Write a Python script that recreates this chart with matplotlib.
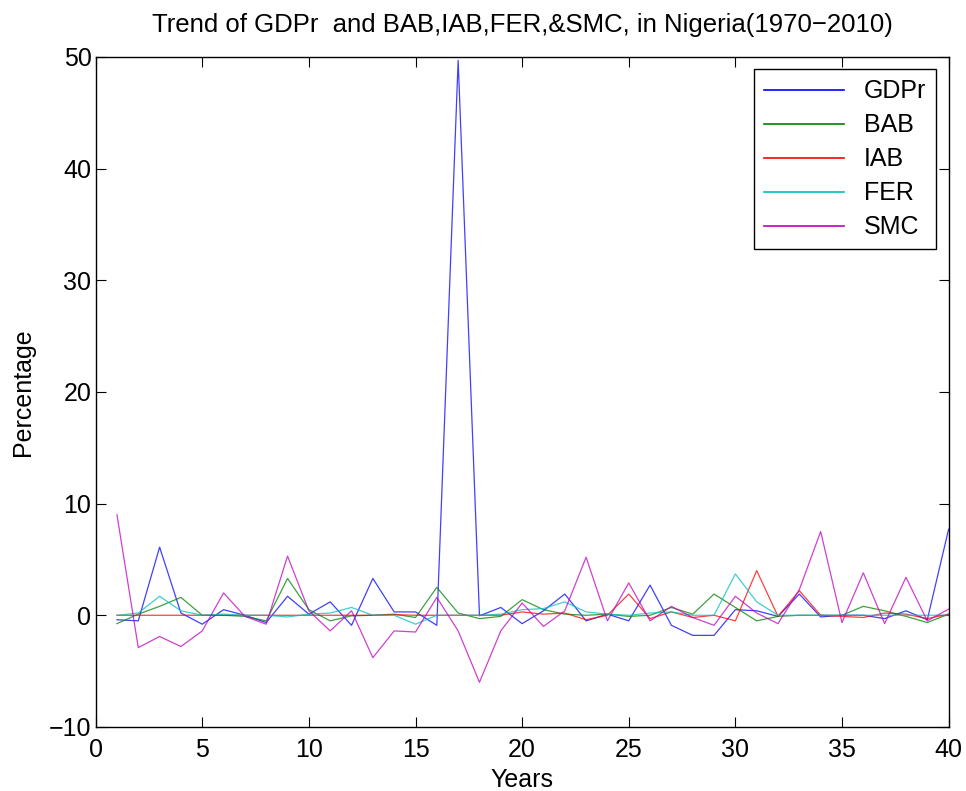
import matplotlib
matplotlib.use("Agg")
import matplotlib.pyplot as plt

years = list(range(1, 41))

gdpr = [-0.4, -0.5, 6.1, 0.2, -0.8, 0.5, 0.0, -0.65, 1.7, 0.1,
        1.2, -0.9, 3.3, 0.3, 0.3, -0.9, 49.7, -0.05, 0.7, -0.75,
        0.4, 1.9, -0.5, 0.1, -0.5, 2.7, -0.9, -1.8, -1.8, 0.5,
        0.4, -0.1, 1.9, -0.15, 0.0, 0.0, -0.3, 0.4, -0.4, 7.7]
bab = [-0.75, 0.1, 0.8, 1.6, 0.0, 0.0, -0.1, -0.5, 3.3, 0.5,
       -0.5, -0.05, 0.0, 0.1, -0.2, 2.5, 0.2, -0.3, -0.1, 1.4,
       0.5, 0.1, 0.0, 0.1, -0.1, 0.0, 0.7, 0.1, 1.9, 0.7,
       -0.5, -0.1, 0.0, 0.0, 0.0, 0.8, 0.4, -0.1, -0.65, 0.1]
iab = [0.0, 0.0, 0.0, 0.0, 0.0, 0.0, 0.0, 0.0, 0.0, 0.0,
       0.0, 0.0, 0.0, 0.05, 0.0, 0.0, 0.0, 0.0, 0.0, 0.3,
       0.1, 0.2, -0.4, 0.0, 1.9, -0.3, 0.3, -0.2, 0.0, -0.5,
       4.0, -0.1, 2.2, 0.0, -0.1, -0.2, 0.2, 0.1, -0.3, 0.1]
fer = [0.0, 0.2, 1.7, 0.4, 0.0, 0.1, 0.0, 0.0, -0.15, 0.1,
       0.2, 0.7, 0.0, 0.0, -0.8, 0.0, 0.0, 0.0, 0.1, 0.5,
       0.6, 1.2, 0.3, 0.1, 0.0, 0.2, 0.3, 0.0, 0.0, 3.7,
       1.2, 0.0, 0.0, 0.0, 0.0, 0.0, 0.0, 0.0, 0.0, 0.0]
smc = [9.0, -2.9, -1.9, -2.8, -1.4, 2.0, -0.1, -0.8, 5.3, 0.4,
       -1.4, 0.4, -3.8, -1.4, -1.5, 1.6, -1.4, -6.0, -1.4, 1.1,
       -1.0, 0.4, 5.2, -0.5, 2.9, -0.5, 0.8, -0.2, -0.9, 1.7,
       0.2, -0.75, 2.3, 7.5, -0.65, 3.8, -0.75, 3.4, -0.5, 0.55]

series = [
    ("GDPr", gdpr, (0, 0, 1)),
    ("BAB", bab, (0, 0.5, 0)),
    ("IAB", iab, (1, 0, 0)),
    ("FER", fer, (0, 0.75, 0.75)),
    ("SMC", smc, (0.75, 0, 0.75)),
]

plt.rcParams["font.family"] = ["Liberation Sans", "DejaVu Sans"]

fig = plt.figure(figsize=(9.66, 7.91), dpi=100)
ax = fig.add_axes([0.099, 0.081, 0.883, 0.847])

for name, values, color in series:
    ax.plot(years, values, color=color, linewidth=0.9, alpha=0.75, label=name)

ax.set_xlim(0, 40)
ax.set_ylim(-10, 50)
ax.set_xticks(range(0, 41, 5))
ax.set_yticks(range(-10, 51, 10))
ax.tick_params(direction="in", top=True, right=True, length=7,
               labelsize=18)
ax.tick_params(axis="x", pad=8)
ax.tick_params(axis="y", pad=3)
for spine in ax.spines.values():
    spine.set_linewidth(1.0)

ax.set_xlabel("Years", fontsize=18, labelpad=4)
ax.set_ylabel("Percentage", fontsize=18, labelpad=10)
ax.set_title("Trend of GDPr  and BAB,IAB,FER,&SMC, in Nigeria(1970\u22122010)",
             fontsize=18.5, pad=18)

leg = ax.legend(loc="upper right", fontsize=18, handlelength=3.2,
                fancybox=False, framealpha=1, edgecolor="black",
                borderaxespad=0.5, labelspacing=0.4)
leg.get_frame().set_linewidth(1.0)
for line in leg.get_lines():
    line.set_alpha(1)
    line.set_linewidth(1.2)

fig.savefig("out.png", dpi=100)
